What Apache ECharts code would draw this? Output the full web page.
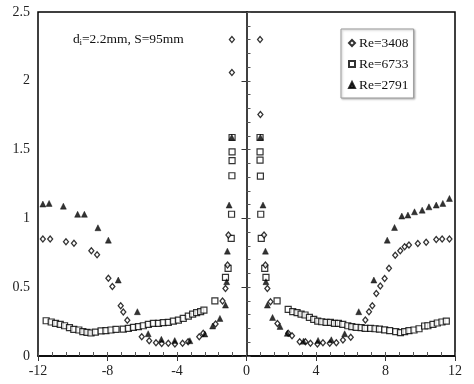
<!DOCTYPE html>
<html>
<head>
<meta charset="utf-8">
<script src="https://cdn.jsdelivr.net/npm/echarts@6/dist/echarts.min.js"></script>
<style>
html,body{margin:0;padding:0;background:#fff;}
#chart{width:474px;height:384px;}
</style>
</head>
<body>
<div id="chart"></div>
<script>
// ---- data ----
var seriesNames = ['Re=3408', 'Re=6733', 'Re=2791'];
var xTicks = [-12, -8, -4, 0, 4, 8, 12];
var yTicks = [0, 0.5, 1, 1.5, 2, 2.5];

var re3408 = [
  [-11.72,0.85],[-11.3,0.85],[-10.39,0.83],[-9.93,0.82],[-8.93,0.765],[-8.6,0.735],
  [-7.95,0.565],[-7.72,0.505],[-7.24,0.365],[-7.09,0.32],[-6.86,0.26],[-6.03,0.14],
  [-5.6,0.11],[-5.21,0.097],[-4.88,0.09],[-4.5,0.092],[-4.12,0.087],[-3.68,0.092],
  [-3.36,0.104],[-2.72,0.14],[-2.49,0.165],[-1.78,0.232],[-1.38,0.40],[-1.21,0.49],
  [-1.09,0.661],[-1.04,0.879],[-0.84,2.06],[-0.84,2.30],
  [0.78,2.30],[0.8,1.755],[1.01,0.879],[1.09,0.661],[1.2,0.49],[1.38,0.394],
  [1.78,0.237],[2.4,0.165],[2.62,0.148],[3.06,0.104],[3.39,0.104],[3.68,0.092],
  [4.08,0.087],[4.4,0.097],[4.79,0.092],[5.17,0.097],[5.55,0.116],[6.0,0.136],
  [6.84,0.261],[7.05,0.322],[7.24,0.365],[7.47,0.455],[7.7,0.508],[7.95,0.564],
  [8.2,0.637],[8.56,0.733],[8.85,0.765],[9.1,0.794],[9.35,0.806],[9.86,0.818],
  [10.34,0.826],[10.92,0.847],[11.26,0.85],[11.68,0.85]
];

var re6733 = [
  [-11.53,0.256],[-11.24,0.247],[-10.99,0.237],[-10.72,0.23],[-10.47,0.22],[-10.19,0.206],
  [-9.94,0.194],[-9.65,0.189],[-9.42,0.177],[-9.18,0.172],[-8.95,0.167],[-8.7,0.174],
  [-8.37,0.182],[-8.09,0.184],[-7.8,0.189],[-7.51,0.194],[-7.09,0.196],[-6.8,0.201],
  [-6.51,0.208],[-6.22,0.213],[-5.94,0.22],[-5.65,0.23],[-5.36,0.237],[-5.07,0.237],
  [-4.79,0.242],[-4.5,0.245],[-4.21,0.254],[-3.92,0.261],[-3.64,0.274],[-3.35,0.29],
  [-3.1,0.305],[-2.87,0.315],[-2.64,0.322],[-2.45,0.334],[-1.82,0.40],[-1.21,0.571],
  [-1.06,0.637],[-0.88,0.855],[-0.86,1.03],[-0.84,1.31],[-0.83,1.42],[-0.83,1.484],[-0.83,1.588],
  [0.78,1.588],[0.78,1.484],[0.78,1.423],[0.8,1.307],[0.82,1.03],[0.85,0.855],
  [1.05,0.637],[1.12,0.571],[1.76,0.40],[2.4,0.339],[2.66,0.322],[2.91,0.315],
  [3.14,0.305],[3.37,0.298],[3.62,0.281],[3.87,0.266],[4.1,0.254],[4.33,0.249],
  [4.58,0.245],[4.83,0.245],[5.06,0.237],[5.29,0.237],[5.54,0.23],[5.83,0.22],
  [6.06,0.213],[6.31,0.208],[6.6,0.206],[6.83,0.201],[7.14,0.201],[7.4,0.198],
  [7.65,0.196],[7.95,0.19],[8.24,0.184],[8.59,0.177],[8.86,0.17],[9.1,0.177],
  [9.35,0.184],[9.64,0.189],[9.93,0.198],[10.25,0.218],[10.44,0.22],[10.73,0.23],
  [10.98,0.24],[11.25,0.247],[11.5,0.254]
];

var re2791 = [
  [-11.72,1.104],[-11.36,1.109],[-10.54,1.089],[-9.72,1.03],[-9.33,1.03],[-8.55,0.932],
  [-7.95,0.842],[-7.38,0.552],[-6.28,0.322],[-5.66,0.162],[-4.9,0.121],[-4.13,0.112],
  [-3.26,0.111],[-2.4,0.16],[-1.95,0.218],[-1.53,0.273],[-1.21,0.37],[-1.14,0.54],
  [-1.1,0.762],[-1.0,1.097],[-0.85,1.59],
  [0.8,1.59],[0.95,1.097],[1.09,0.762],[1.12,0.54],[1.2,0.37],[1.5,0.28],[1.93,0.215],
  [2.35,0.165],[3.28,0.108],[4.12,0.113],[4.88,0.118],[5.65,0.162],[6.46,0.322],
  [7.33,0.552],[8.1,0.842],[8.52,0.934],[8.94,1.017],[9.29,1.024],[9.67,1.048],
  [10.11,1.06],[10.5,1.084],[10.92,1.097],[11.3,1.109],[11.68,1.145]
];

// ---- chart ----
var FONT = '"Liberation Serif", "Times New Roman", serif';
var gridPos = {left: 38, right: 19, top: 12, bottom: 28};
var chart = echarts.init(document.getElementById('chart'), null, {renderer: 'canvas'});

var option = {
  backgroundColor: '#fff',
  animation: false,
  textStyle: {fontFamily: FONT},
  grid: [
    Object.assign({show: true, borderColor: '#000', borderWidth: 1.5, backgroundColor: 'transparent'}, gridPos),
    Object.assign({show: false}, gridPos)
  ],
  legend: {
    orient: 'vertical',
    left: 341, top: 29,
    data: seriesNames,
    itemWidth: 6, itemHeight: 6, itemGap: 7,
    padding: [7, 5, 6, 7],
    borderColor: '#999', borderWidth: 1,
    backgroundColor: '#fff',
    shadowColor: 'rgba(0,0,0,0.25)', shadowBlur: 2, shadowOffsetX: 1, shadowOffsetY: 1,
    textStyle: {fontFamily: FONT, fontSize: 13.5, color: '#111', padding: [0, 0, 0, -1], lineHeight: 14}
  },
  xAxis: [
    {
      type: 'value', gridIndex: 0, min: xTicks[0], max: xTicks[xTicks.length - 1], interval: 4,
      axisLine: {show: true, lineStyle: {color: '#000', width: 1.5}},
      axisTick: {show: true, inside: false, length: 5, lineStyle: {color: '#333'}},
      axisLabel: {fontFamily: FONT, fontSize: 14, color: '#222', margin: 8},
      splitLine: {show: false}
    },
    {
      type: 'value', gridIndex: 1, min: -12, max: 12, interval: 0.8,
      axisLine: {show: false},
      axisTick: {show: true, inside: true, length: 4, lineStyle: {color: '#555'}},
      axisLabel: {show: false},
      splitLine: {show: false}
    }
  ],
  yAxis: [
    {
      type: 'value', gridIndex: 0, min: yTicks[0], max: yTicks[yTicks.length - 1], interval: 0.5,
      axisLine: {show: true, lineStyle: {color: '#000', width: 1.5}},
      axisTick: {show: true, inside: false, length: 5, lineStyle: {color: '#333'}},
      axisLabel: {fontFamily: FONT, fontSize: 14, color: '#222', margin: 8},
      splitLine: {show: false}
    },
    {
      type: 'value', gridIndex: 1, min: 0, max: 2.5, interval: 0.1,
      axisLine: {show: false},
      axisTick: {show: true, inside: true, length: 4, lineStyle: {color: '#555'}},
      axisLabel: {show: false},
      splitLine: {show: false}
    }
  ],
  graphic: [
    {type: 'text', left: 73, top: 32, z: 10, style: {text: 'd', font: '13.5px ' + FONT, fill: '#111'}},
    {type: 'text', left: 79.5, top: 38, z: 10, style: {text: 'i', font: '9px ' + FONT, fill: '#111'}},
    {type: 'text', left: 82, top: 32, z: 10, style: {text: '=2.2mm, S=95mm', font: '13.5px ' + FONT, fill: '#111'}}
  ],
  series: [
    {
      name: seriesNames[0], type: 'scatter', xAxisIndex: 0, yAxisIndex: 0,
      data: re3408, symbol: 'diamond', symbolSize: [5, 6],
      itemStyle: {color: '#fff', borderColor: '#000', borderWidth: 1.3}, z: 3
    },
    {
      name: seriesNames[1], type: 'scatter', xAxisIndex: 0, yAxisIndex: 0,
      data: re6733, symbol: 'rect', symbolSize: 6,
      itemStyle: {color: '#fff', borderColor: '#000', borderWidth: 1.2}, z: 2
    },
    {
      name: seriesNames[2], type: 'scatter', xAxisIndex: 0, yAxisIndex: 0,
      data: re2791, symbol: 'triangle', symbolSize: 6,
      itemStyle: {color: '#000', borderColor: '#000', borderWidth: 0.5}, z: 4
    }
  ]
};
chart.setOption(option);
</script>
</body>
</html>
